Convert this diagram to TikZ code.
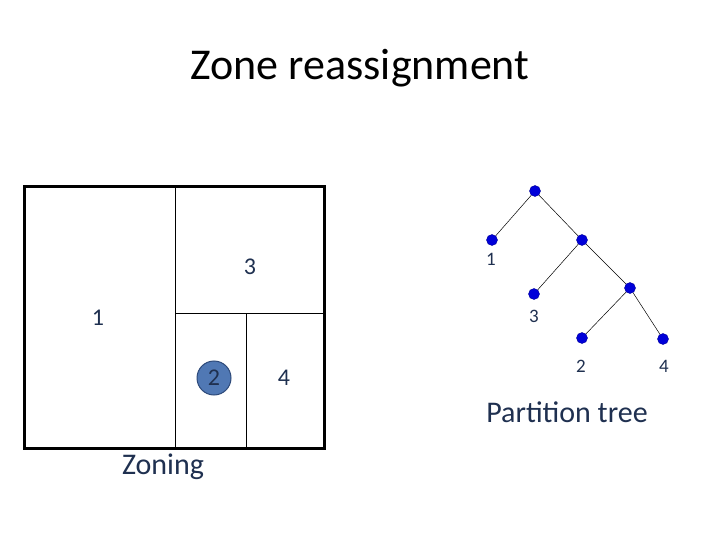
\documentclass[tikz,border=0pt]{standalone}
\usepackage{fontspec}
\setmainfont{Carlito}
\definecolor{lab}{HTML}{1F3050}
\definecolor{cfill}{HTML}{5078B4}
\definecolor{cdraw}{HTML}{2E4A7A}
\begin{document}
\begin{tikzpicture}[x=1pt,y=-1pt,
  dot/.style={circle,fill=blue!85!black,draw=blue!60!black,inner sep=0pt,minimum size=11pt},
  lbl/.style={text=lab,font=\fontsize{24}{28}\selectfont},
  tlbl/.style={text=lab,font=\fontsize{19}{22}\selectfont},
  edge/.style={draw=black,line width=0.5pt}]
\useasboundingbox[fill=white] (0,0) rectangle (720,540);
\node[font=\fontsize{44}{52}\selectfont] (title) at (360,68) {Zone reassignment};
% zoning
\draw[line width=3pt] (24,187) rectangle (324,448);
\draw[line width=0.8pt] (175,187) -- (175,448);
\draw[line width=0.8pt] (175,313) -- (324,313);
\draw[line width=0.8pt] (246,313) -- (246,448);
\node[lbl] (z3) at (250,267) {3};
\node[lbl] (z1) at (98,318) {1};
\node[circle,fill=cfill,draw=cdraw,line width=1pt,minimum size=34pt,inner sep=0pt,lbl] (z2) at (214,378) {2};
\node[lbl] (z4) at (284,378) {4};
\node[text=lab,font=\fontsize{30}{34}\selectfont] (zoning) at (163,467) {Zoning};
% tree
\node[dot] (r) at (535,191) {};
\node[dot] (t1) at (492,240) {};
\node[dot] (a) at (582,240) {};
\node[dot] (t3) at (534,294) {};
\node[dot] (b) at (630,288) {};
\node[dot] (t2) at (582,338) {};
\node[dot] (t4) at (663,339) {};
\draw[edge] (r) -- (t1); \draw[edge] (r) -- (a);
\draw[edge] (a) -- (t3); \draw[edge] (a) -- (b);
\draw[edge] (b) -- (t2); \draw[edge] (b) -- (t4);
\node[tlbl] (l1) at (491,259) {1};
\node[tlbl] (l3) at (534,316) {3};
\node[tlbl] (l2) at (581,366) {2};
\node[tlbl] (l4) at (664,366) {4};
\node[text=lab,font=\fontsize{30}{34}\selectfont] (pt) at (567,412) {Partition tree};
\end{tikzpicture}
\end{document}
